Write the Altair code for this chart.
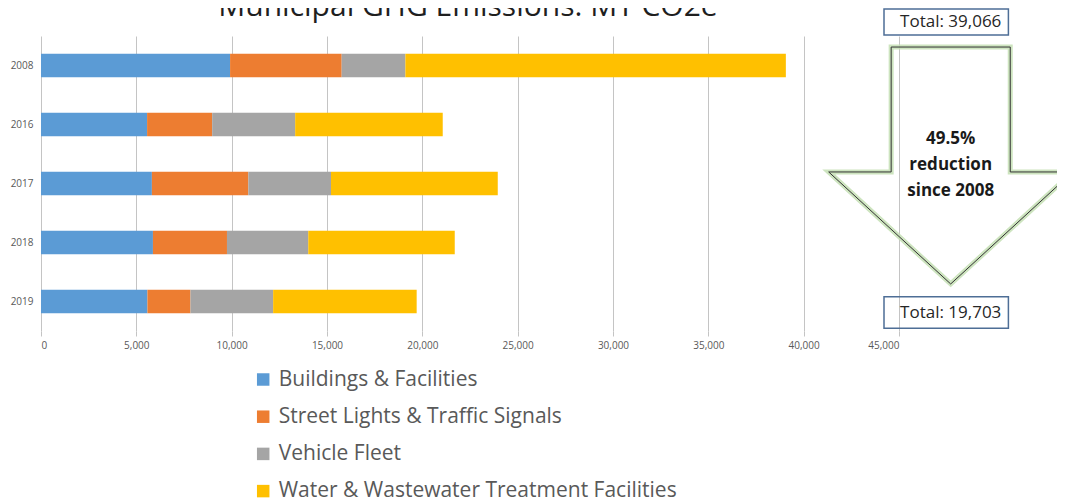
import altair as alt
import pandas as pd

# ---------------- data ----------------
years = ["2008", "2016", "2017", "2018", "2019"]
categories = [
    "Buildings & Facilities",
    "Street Lights & Traffic Signals",
    "Vehicle Fleet",
    "Water & Wastewater Treatment Facilities",
]
buildings = [9917, 5564, 5816, 5871, 5582]
street_lights = [5853, 3414, 5058, 3883, 2258]
vehicle_fleet = [3341, 4353, 4336, 4263, 4335]
water = [19955, 7739, 8746, 7683, 7528]
colors = ["#5B9BD5", "#ED7D31", "#A5A5A5", "#FFC000"]
x_ticks = [0, 5000, 10000, 15000, 20000, 25000, 30000, 35000, 40000, 45000]

title_text = "Municipal GHG Emissions: MT CO2e"
total_start = "Total: 39,066"
total_end = "Total: 19,703"
arrow_lines = ["49.5%", "reduction", "since 2008"]

series = [buildings, street_lights, vehicle_fleet, water]
rows = []
for i, yr in enumerate(years):
    for k, cat in enumerate(categories):
        rows.append({"year": yr, "category": cat, "value": series[k][i], "rank": k})
df = pd.DataFrame(rows)

W, H = 858, 295
TOTAL_H = 491
FONT = "Open Sans"

bars = alt.Chart(df).mark_bar().encode(
    x=alt.X(
        "value:Q",
        stack="zero",
        scale=alt.Scale(domain=[0, 45000], nice=False),
        axis=alt.Axis(
            values=x_ticks, format=",d", title=None, grid=True,
            gridColor="#C4C4C4", gridWidth=1, domain=False,
            tickColor="#C4C4C4", tickSize=5, labelPadding=4,
            labelFont=FONT, labelFontSize=10, labelColor="#595959",
        ),
    ),
    y=alt.Y(
        "year:N", sort=years,
        scale=alt.Scale(paddingInner=0.6, paddingOuter=0.3),
        axis=alt.Axis(
            title=None, domain=False, ticks=False, labelPadding=8,
            labelFont=FONT, labelFontSize=10, labelColor="#595959",
        ),
    ),
    color=alt.Color(
        "category:N",
        scale=alt.Scale(domain=categories, range=colors),
        legend=alt.Legend(
            orient="none", legendX=211.7, legendY=333, title=None,
            symbolType="square", symbolSize=156, symbolStrokeWidth=0,
            labelFont=FONT, labelFontSize=21, labelColor="#595959",
            labelOffset=5, rowPadding=15.2, padding=0, labelLimit=0,
            direction="vertical",
        ),
    ),
    order=alt.Order("rank:Q"),
)

one = pd.DataFrame({"k": [0]})

title = alt.Chart(pd.DataFrame({"t": [title_text]})).mark_text(
    font=FONT, fontSize=30, color="#1f1f1f", align="center", baseline="alphabetic"
).encode(x=alt.value(427), y=alt.value(-20), text="t:N")

arrow_path = ("M -0.488 -0.971 L 0.488 -0.971 L 0.488 0.053 L 1 0.053 "
              "L 0 0.971 L -1 0.053 L -0.488 0.053 Z")
arrow_glow = alt.Chart(one).mark_point(
    shape=arrow_path, size=59536, filled=False, stroke="#C5E0B4",
    strokeWidth=5, opacity=0.85,
).encode(x=alt.value(909.7), y=alt.value(129.5))
arrow = alt.Chart(one).mark_point(
    shape=arrow_path, size=59536, filled=False, stroke="#333333",
    strokeWidth=1, opacity=1,
).encode(x=alt.value(909.7), y=alt.value(129.5))

arrow_text = alt.Chart(pd.DataFrame({"t": ["|".join(arrow_lines)]})).mark_text(
    font=FONT, fontSize=17, fontWeight="bold", color="#1a1a1a",
    align="center", baseline="middle", lineBreak="|", lineHeight=26,
).encode(x=alt.value(909.7), y=alt.value(103), text="t:N")

box_top = alt.Chart(one).mark_rect(
    fillOpacity=0, stroke="#4E6E96", strokeWidth=1.5
).encode(x=alt.value(843), x2=alt.value(967.4), y=alt.value(-27), y2=alt.value(-1))
box_bottom = alt.Chart(one).mark_rect(
    fillOpacity=0, stroke="#4E6E96", strokeWidth=1.5
).encode(x=alt.value(843), x2=alt.value(967.4), y=alt.value(260.7), y2=alt.value(292.3))

txt_top = alt.Chart(pd.DataFrame({"t": [total_start]})).mark_text(
    font=FONT, fontSize=17, color="#262626", align="center", baseline="middle"
).encode(x=alt.value(909.7), y=alt.value(-14), text="t:N")
txt_bottom = alt.Chart(pd.DataFrame({"t": [total_end]})).mark_text(
    font=FONT, fontSize=17, color="#262626", align="center", baseline="middle"
).encode(x=alt.value(909.7), y=alt.value(276.5), text="t:N")

chart = alt.layer(
    bars, title, arrow_glow, arrow, arrow_text, box_top, box_bottom, txt_top, txt_bottom
).properties(
    width=W, height=H,
    autosize=alt.AutoSizeParams(type="none"),
    padding={"left": 33, "top": 28, "right": 1049 - 33 - W, "bottom": TOTAL_H - 28 - H},
    background="white",
).configure_view(stroke=None)

chart.save("out.html", embed_options={"renderer": "svg", "actions": False})
